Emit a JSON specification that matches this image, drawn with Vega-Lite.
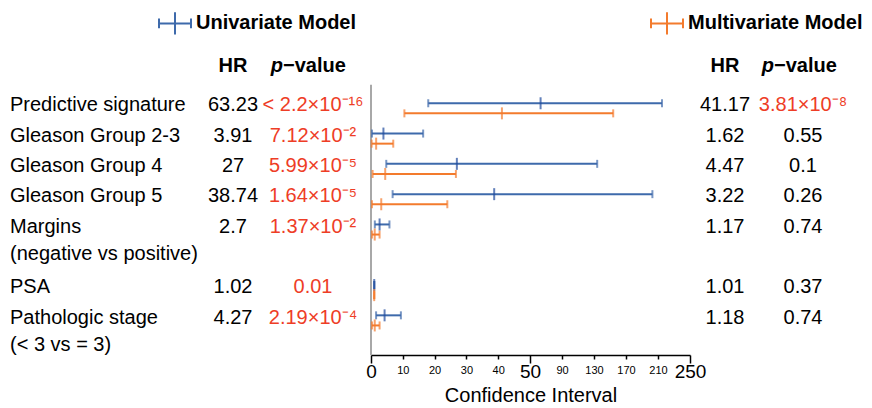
{
  "$schema": "https://vega.github.io/schema/vega-lite/v6.json",
  "padding": {"left": 10, "top": 0, "right": 0, "bottom": 0},
  "spacing": 0,
  "bounds": "flush",
  "config": {"view": {"stroke": null}, "text": {"font": "Liberation Sans", "fontSize": 20, "color": "black"}},
  "datasets": {
    "table": [
      {"var": "Predictive signature", "label": "Predictive signature", "hr_u": "63.23", "p_u": "< 2.2×10⁻¹⁶", "sig_u": true, "hr_m": "41.17", "p_m": "3.81×10⁻⁸", "sig_m": true},
      {"var": "Gleason Group 2-3", "label": "Gleason Group 2-3", "hr_u": "3.91", "p_u": "7.12×10⁻²", "sig_u": true, "hr_m": "1.62", "p_m": "0.55", "sig_m": false},
      {"var": "Gleason Group 4", "label": "Gleason Group 4", "hr_u": "27", "p_u": "5.99×10⁻⁵", "sig_u": true, "hr_m": "4.47", "p_m": "0.1", "sig_m": false},
      {"var": "Gleason Group 5", "label": "Gleason Group 5", "hr_u": "38.74", "p_u": "1.64×10⁻⁵", "sig_u": true, "hr_m": "3.22", "p_m": "0.26", "sig_m": false},
      {"var": "Margins", "label": ["Margins", "(negative vs positive)"], "hr_u": "2.7", "p_u": "1.37×10⁻²", "sig_u": true, "hr_m": "1.17", "p_m": "0.74", "sig_m": false},
      {"var": "PSA", "label": "PSA", "hr_u": "1.02", "p_u": "0.01", "sig_u": true, "hr_m": "1.01", "p_m": "0.37", "sig_m": false},
      {"var": "Pathologic stage", "label": ["Pathologic stage", "(< 3 vs = 3)"], "hr_u": "4.27", "p_u": "2.19×10⁻⁴", "sig_u": true, "hr_m": "1.18", "p_m": "0.74", "sig_m": false}
    ],
    "forest": [
      {"var": "Predictive signature", "model": "Univariate Model", "hr": 63.23, "lo": 18, "hi": 215},
      {"var": "Predictive signature", "model": "Multivariate Model", "hr": 41.17, "lo": 10.5, "hi": 154},
      {"var": "Gleason Group 2-3", "model": "Univariate Model", "hr": 3.91, "lo": 0.3, "hi": 16.4},
      {"var": "Gleason Group 2-3", "model": "Multivariate Model", "hr": 1.62, "lo": 0.2, "hi": 7},
      {"var": "Gleason Group 4", "model": "Univariate Model", "hr": 27, "lo": 4.8, "hi": 134},
      {"var": "Gleason Group 4", "model": "Multivariate Model", "hr": 4.47, "lo": 0.5, "hi": 26.7},
      {"var": "Gleason Group 5", "model": "Univariate Model", "hr": 38.74, "lo": 6.8, "hi": 203},
      {"var": "Gleason Group 5", "model": "Multivariate Model", "hr": 3.22, "lo": 0.3, "hi": 24},
      {"var": "Margins", "model": "Univariate Model", "hr": 2.7, "lo": 1.2, "hi": 5.8},
      {"var": "Margins", "model": "Multivariate Model", "hr": 1.17, "lo": 0.3, "hi": 2.7},
      {"var": "PSA", "model": "Univariate Model", "hr": 1.02, "lo": 1.01, "hi": 1.03},
      {"var": "PSA", "model": "Multivariate Model", "hr": 1.01, "lo": 1.0, "hi": 1.02},
      {"var": "Pathologic stage", "model": "Univariate Model", "hr": 4.27, "lo": 1.6, "hi": 9.4},
      {"var": "Pathologic stage", "model": "Multivariate Model", "hr": 1.18, "lo": 0.3, "hi": 2.7}
    ]
  },
  "hconcat": [
    {
      "width": 190, "height": 362,
      "data": {"name": "table"},
      "mark": {"type": "text", "align": "left", "baseline": "alphabetic", "dy": 7, "lineHeight": 27},
      "encoding": {
        "x": {"value": 0},
        "y": {"field": "var", "type": "nominal", "axis": null, "scale": {"type": "band", "domain": ["header", "Predictive signature", "Gleason Group 2-3", "Gleason Group 4", "Gleason Group 5", "Margins", "Margins (line 2)", "PSA", "Pathologic stage", "Pathologic stage (line 2)"], "paddingInner": 0, "paddingOuter": 0.974, "align": 1}},
        "text": {"field": "label", "type": "nominal"}
      }
    },
    {
      "width": 66, "height": 362,
      "layer": [
        {
          "data": {"values": [{"var": "header", "t": "HR"}]},
          "mark": {"type": "text", "fontWeight": "bold", "baseline": "alphabetic", "dy": -2},
          "encoding": {
            "y": {"field": "var", "type": "nominal", "axis": null, "scale": {"type": "band", "domain": ["header", "Predictive signature", "Gleason Group 2-3", "Gleason Group 4", "Gleason Group 5", "Margins", "Margins (line 2)", "PSA", "Pathologic stage", "Pathologic stage (line 2)"], "paddingInner": 0, "paddingOuter": 0.974, "align": 1}},
            "text": {"field": "t", "type": "nominal"}
          }
        },
        {
          "data": {"name": "table"},
          "mark": {"type": "text", "baseline": "alphabetic", "dy": 7},
          "encoding": {
            "y": {"field": "var", "type": "nominal", "axis": null},
            "text": {"field": "hr_u", "type": "nominal"}
          }
        }
      ]
    },
    {
      "width": 88, "height": 362,
      "layer": [
        {
          "data": {"values": [{"var": "header", "t": "p"}]},
          "mark": {"type": "text", "fontWeight": "bold", "fontStyle": "italic", "align": "right", "baseline": "alphabetic", "dy": -2, "dx": -27},
          "encoding": {
            "y": {"field": "var", "type": "nominal", "axis": null, "scale": {"type": "band", "domain": ["header", "Predictive signature", "Gleason Group 2-3", "Gleason Group 4", "Gleason Group 5", "Margins", "Margins (line 2)", "PSA", "Pathologic stage", "Pathologic stage (line 2)"], "paddingInner": 0, "paddingOuter": 0.974, "align": 1}},
            "text": {"field": "t", "type": "nominal"}
          }
        },
        {
          "data": {"values": [{"var": "header", "t": "−value"}]},
          "mark": {"type": "text", "fontWeight": "bold", "align": "left", "baseline": "alphabetic", "dy": -2, "dx": -27},
          "encoding": {
            "y": {"field": "var", "type": "nominal", "axis": null},
            "text": {"field": "t", "type": "nominal"}
          }
        },
        {
          "data": {"name": "table"},
          "mark": {"type": "text", "baseline": "alphabetic", "dy": 7, "dx": 3},
          "encoding": {
            "y": {"field": "var", "type": "nominal", "axis": null},
            "text": {"field": "p_u", "type": "nominal"},
            "color": {"condition": {"test": "datum.sig_u", "value": "#ee3d26"}, "value": "black"}
          }
        }
      ]
    },
    {
      "width": 336, "height": 362,
      "layer": [
        {
          "data": {"name": "forest"},
          "mark": {"type": "rule", "strokeWidth": 2},
          "encoding": {
            "x": {"field": "lo", "type": "quantitative", "scale": {"domain": [0, 50, 250], "range": [17, 176, 336], "nice": false}, "axis": {"orient": "bottom", "offset": -7, "values": [0, 10, 20, 30, 40, 50, 90, 130, 170, 210, 250], "tickCount": 30, "title": "Confidence Interval", "titleFont": "Liberation Sans", "titleFontSize": 20, "titleFontWeight": "normal", "titleColor": "black", "titlePadding": 4, "labelFont": "Liberation Sans", "labelColor": "black", "labelFontSize": {"condition": {"test": "datum.value == 0 || datum.value == 50 || datum.value == 250", "value": 19}, "value": 11}, "labelBaseline": "alphabetic", "labelPadding": 14, "labelFlush": false, "labelOverlap": false, "labelBound": false, "domainColor": "black", "domainWidth": 1.5, "tickColor": "black", "tickWidth": 1.5, "tickSize": {"condition": {"test": "datum.value == 0 || datum.value == 50 || datum.value == 250", "value": 8}, "value": 4}, "grid": false}},
            "x2": {"field": "hi"},
            "y": {"field": "var", "type": "nominal", "axis": null, "scale": {"type": "band", "domain": ["header", "Predictive signature", "Gleason Group 2-3", "Gleason Group 4", "Gleason Group 5", "Margins", "Margins (line 2)", "PSA", "Pathologic stage", "Pathologic stage (line 2)"], "paddingInner": 0, "paddingOuter": 0.974, "align": 1}},
            "yOffset": {"field": "model", "type": "nominal", "scale": {"type": "point", "domain": ["Univariate Model", "Multivariate Model"], "padding": 1.01, "align": 0.69}},
            "color": {"field": "model", "type": "nominal", "scale": {"domain": ["Univariate Model", "Multivariate Model"], "range": ["#3e6aab", "#f37b2d"]}, "legend": {"title": null, "orient": "none", "legendX": 148, "legendY": 6, "direction": "horizontal", "symbolType": "M-1,0H1M-1,-0.3V0.3M1,-0.3V0.3M0,-0.7V0.7", "symbolSize": 1024, "symbolStrokeWidth": 2, "labelFont": "Liberation Sans", "labelFontSize": 20, "labelFontWeight": "bold", "labelColor": "black", "labelLimit": 400, "labelOffset": 4, "columnPadding": 290, "encode": {"symbols": {"update": {"stroke": {"scale": "color", "field": "value"}, "fill": {"value": "transparent"}, "strokeWidth": {"value": 2}}}}}}
          }
        },
        {
          "data": {"values": [{"ref": 0}]},
          "mark": {"type": "rule", "color": "#a8a8a8", "strokeWidth": 2},
          "encoding": {
            "x": {"datum": 0, "type": "quantitative"},
            "y": {"datum": "header", "type": "nominal", "bandPosition": 0.85},
            "y2": {"datum": "Pathologic stage (line 2)", "bandPosition": 0.77}
          }
        },
        {
          "data": {"name": "forest"},
          "mark": {"type": "tick", "thickness": 2, "size": 8},
          "encoding": {
            "x": {"field": "lo", "type": "quantitative"},
            "y": {"field": "var", "type": "nominal"},
            "yOffset": {"field": "model", "type": "nominal"},
            "color": {"field": "model", "type": "nominal"}
          }
        },
        {
          "data": {"name": "forest"},
          "mark": {"type": "tick", "thickness": 2, "size": 8},
          "encoding": {
            "x": {"field": "hi", "type": "quantitative"},
            "y": {"field": "var", "type": "nominal"},
            "yOffset": {"field": "model", "type": "nominal"},
            "color": {"field": "model", "type": "nominal"}
          }
        },
        {
          "data": {"name": "forest"},
          "mark": {"type": "tick", "thickness": 2, "size": 12},
          "encoding": {
            "x": {"field": "hr", "type": "quantitative"},
            "y": {"field": "var", "type": "nominal"},
            "yOffset": {"field": "model", "type": "nominal"},
            "color": {"condition": {"test": "datum.model == 'Univariate Model'", "value": "#1f4a9c"}, "value": "#f37b2d"}
          }
        }
      ]
    },
    {
      "width": 70, "height": 362,
      "layer": [
        {
          "data": {"values": [{"var": "header", "t": "HR"}]},
          "mark": {"type": "text", "fontWeight": "bold", "baseline": "alphabetic", "dy": -2},
          "encoding": {
            "y": {"field": "var", "type": "nominal", "axis": null, "scale": {"type": "band", "domain": ["header", "Predictive signature", "Gleason Group 2-3", "Gleason Group 4", "Gleason Group 5", "Margins", "Margins (line 2)", "PSA", "Pathologic stage", "Pathologic stage (line 2)"], "paddingInner": 0, "paddingOuter": 0.974, "align": 1}},
            "text": {"field": "t", "type": "nominal"}
          }
        },
        {
          "data": {"name": "table"},
          "mark": {"type": "text", "baseline": "alphabetic", "dy": 7},
          "encoding": {
            "y": {"field": "var", "type": "nominal", "axis": null},
            "text": {"field": "hr_m", "type": "nominal"}
          }
        }
      ]
    },
    {
      "width": 86, "height": 362,
      "layer": [
        {
          "data": {"values": [{"var": "header", "t": "p"}]},
          "mark": {"type": "text", "fontWeight": "bold", "fontStyle": "italic", "align": "right", "baseline": "alphabetic", "dy": -2, "dx": -29},
          "encoding": {
            "y": {"field": "var", "type": "nominal", "axis": null, "scale": {"type": "band", "domain": ["header", "Predictive signature", "Gleason Group 2-3", "Gleason Group 4", "Gleason Group 5", "Margins", "Margins (line 2)", "PSA", "Pathologic stage", "Pathologic stage (line 2)"], "paddingInner": 0, "paddingOuter": 0.974, "align": 1}},
            "text": {"field": "t", "type": "nominal"}
          }
        },
        {
          "data": {"values": [{"var": "header", "t": "−value"}]},
          "mark": {"type": "text", "fontWeight": "bold", "align": "left", "baseline": "alphabetic", "dy": -2, "dx": -29},
          "encoding": {
            "y": {"field": "var", "type": "nominal", "axis": null},
            "text": {"field": "t", "type": "nominal"}
          }
        },
        {
          "data": {"name": "table"},
          "mark": {"type": "text", "baseline": "alphabetic", "dy": 7},
          "encoding": {
            "y": {"field": "var", "type": "nominal", "axis": null},
            "text": {"field": "p_m", "type": "nominal"},
            "color": {"condition": {"test": "datum.sig_m", "value": "#ee3d26"}, "value": "black"}
          }
        }
      ]
    }
  ]
}
